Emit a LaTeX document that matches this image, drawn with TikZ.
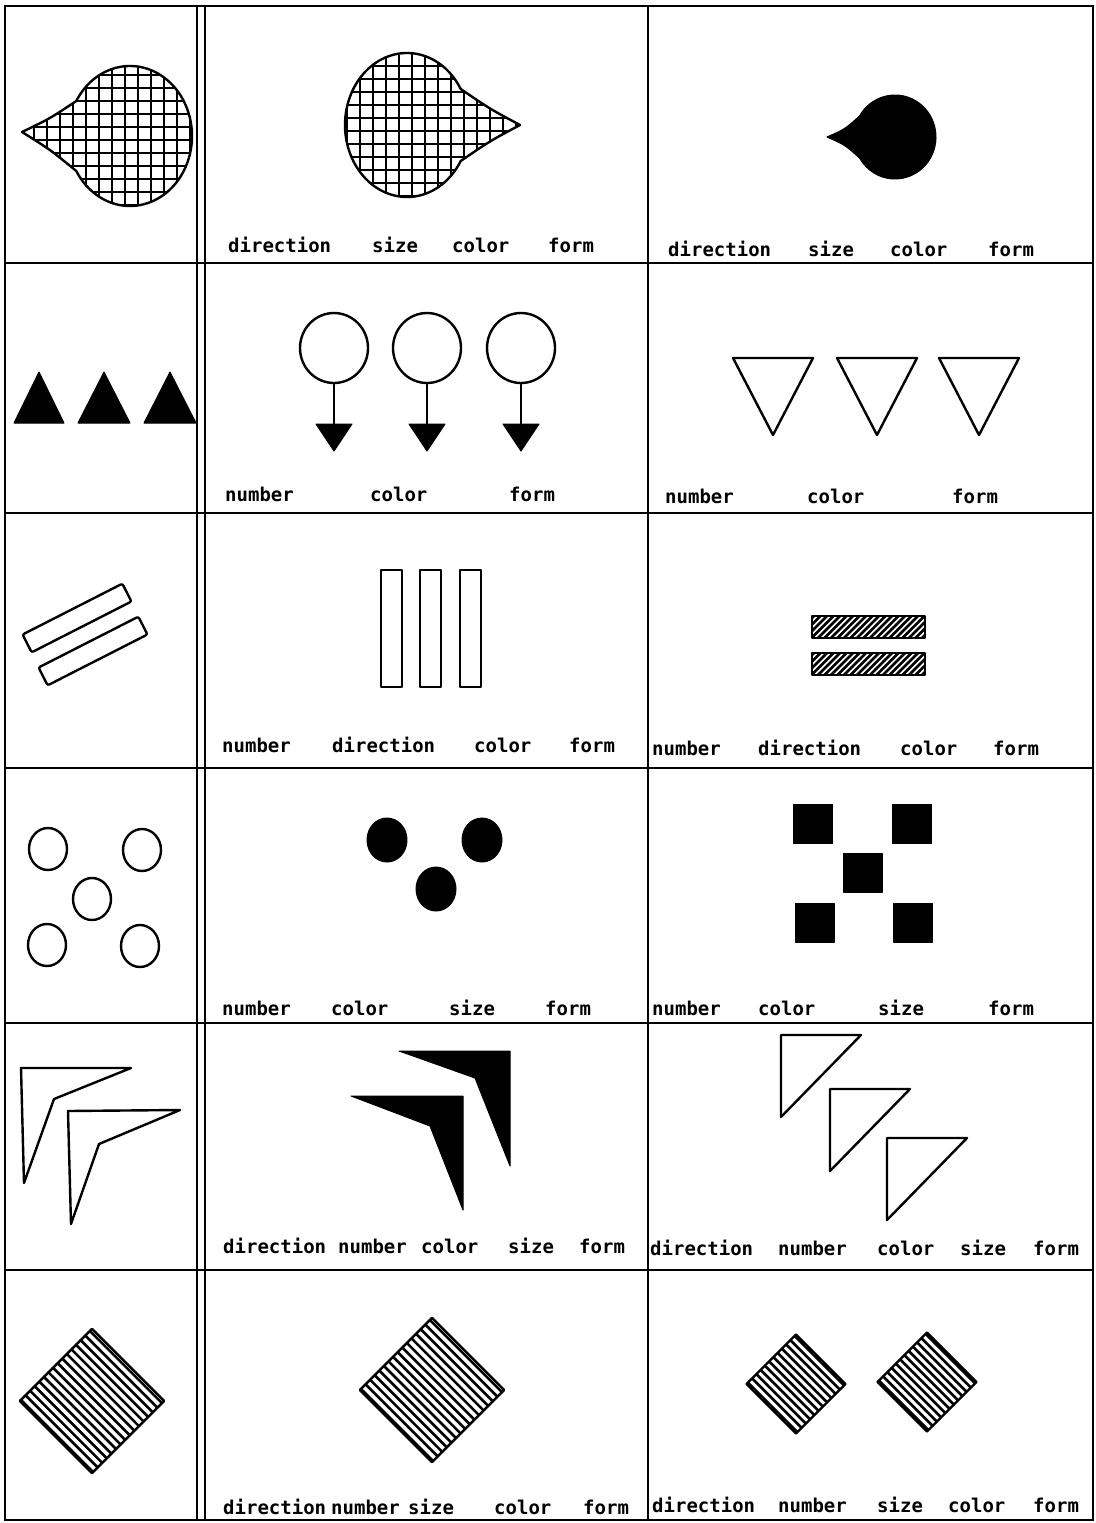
\documentclass[tikz,border=0pt]{standalone}
\usepackage{fontspec}
\newfontfamily\dotfont{DejaVu Sans Mono}
\begin{document}
\begin{tikzpicture}[
  x=1pt, y=-1pt,
  rule/.style={line width=2.2pt},
  outl/.style={draw, line width=2.4pt, line join=round},
  ink/.style={fill=black, draw=black, line width=1pt, line join=round},
  mesh/.style={line width=1.8pt},
  hatch/.style={line width=2.6pt},
  cue/.style={anchor=base west, inner sep=0pt, font=\dotfont\bfseries\fontsize{19}{20}\selectfont},
]
\fill[white] (0,0) rectangle (1095,1523);
\useasboundingbox (0,0) rectangle (1095,1523);

% table
\draw[rule] (5,6) rectangle (1093,1520);
\foreach \y in {263,513,768,1023,1270}
  \draw[rule] (5,\y) -- (1093,\y);
\foreach \x in {197,205,648}
  \draw[rule] (\x,6) -- (\x,1520);

% row 1: drops
\draw[outl, path picture={
    \foreach \g in {8,21,...,200} \draw[mesh] (\g,40) -- (\g,230);
    \foreach \g in {49,62,...,220} \draw[mesh] (0,\g) -- (200,\g);}]
  (22,132) .. controls (50,118.5) .. (76.3,101)
  arc[start angle=-150, end angle=150, x radius=62, y radius=70]
  .. controls (50,149.5) .. (22,132) -- cycle;
\draw[outl, path picture={
    \foreach \g in {334,347,...,530} \draw[mesh] (\g,30) -- (\g,220);
    \foreach \g in {40,53,...,210} \draw[mesh] (330,\g) -- (530,\g);}]
  (520,125) .. controls (490,109) .. (460.7,89)
  arc[start angle=-30, end angle=-330, x radius=62, y radius=72]
  .. controls (490,141) .. (520,125) -- cycle;
\path[ink] (827,137) .. controls (845,129) .. (859.5,116)
  arc[start angle=-150, end angle=150, x radius=41, y radius=42]
  .. controls (845,145) .. (827,137) -- cycle;

% row 2: triangles and pins
\foreach \x/\w in {14/50, 78/52, 144/52}
  \path[ink] (\x,423) -- ++(\w,0) -- ++(-\w/2,-51) -- cycle;
\foreach \x in {334,427,521} {
  \draw[outl] (\x,348) ellipse[x radius=34, y radius=35];
  \draw[line width=2pt] (\x,383) -- (\x,426);
  \path[ink] (\x-18,424) -- (\x+18,424) -- (\x,451) -- cycle;
}
\foreach \x in {733,837,939}
  \draw[outl] (\x,358) -- ++(80,0) -- ++(-40,77) -- cycle;

% row 3: bars
\draw[outl, rounded corners=2pt, rotate around={27:(77,618)}] (21,608) rectangle (133,628);
\draw[outl, rounded corners=2pt, rotate around={27:(93,651)}] (37,641) rectangle (149,661);
\foreach \x in {381,420,460}
  \draw[outl] (\x,570) rectangle ++(21,117);
\foreach \y in {616,653} {
  \begin{scope}
    \clip (812,\y) rectangle ++(113,22);
    \foreach \s in {790,796.5,...,930} \draw[hatch] (\s,\y+24) -- (\s+26,\y-2);
  \end{scope}
  \draw[outl] (812,\y) rectangle ++(113,22);
}

% row 4: dots and squares
\foreach \x/\y in {48/849, 142/850, 92/899, 47/945, 140/946}
  \draw[outl] (\x,\y) ellipse[x radius=19, y radius=21];
\foreach \x/\y in {387/840, 482/840, 436/889}
  \path[ink] (\x,\y) ellipse[x radius=20, y radius=22];
\foreach \x/\y in {793/804, 892/804, 843/853, 795/903, 893/903}
  \path[ink] (\x,\y) rectangle ++(39,39);

% row 5: corners and wedges
\draw[outl] (21,1068) -- (131,1068) -- (54,1099) -- (24,1183) -- cycle;
\draw[outl] (68,1111) -- (180,1110) -- (99,1144) -- (71,1224) -- cycle;
\path[ink] (351,1096) -- (463,1096) -- (463,1210) -- (430,1126) -- cycle;
\path[ink] (399,1051) -- (510,1051) -- (510,1166) -- (475,1078) -- cycle;
\foreach \x/\y in {781/1035, 830/1089, 887/1138}
  \draw[outl] (\x,\y) -- ++(80,0) -- ++(-80,82) -- cycle;

% row 6: striped diamonds
\foreach \cx/\cy/\h/\ta/\tb in {92/1401/51/-48/-41.5, 432/1390/51/-48/-41.5, 796/1384/35/-33/-27, 927/1382/35/-33/-27} {
  \begin{scope}[shift={(\cx,\cy)}, rotate=-45]
    \begin{scope}
      \clip (-\h,-\h) rectangle (\h,\h);
      \foreach \t in {\ta,\tb,...,\h} \draw[hatch] (-\h,\t) -- (\h,\t);
    \end{scope}
    \draw[outl] (-\h,-\h) rectangle (\h,\h);
  \end{scope}
}

% labels
\foreach \w/\x [count=\i] in {direction/228, size/372, color/452, form/548}
  \node[cue] (b1-\i) at (\x,252) {\w};
\foreach \w/\x [count=\i] in {direction/668, size/808, color/890, form/988}
  \node[cue] (c1-\i) at (\x,256) {\w};
\foreach \w/\x [count=\i] in {number/225, color/370, form/509}
  \node[cue] (b2-\i) at (\x,501) {\w};
\foreach \w/\x [count=\i] in {number/665, color/807, form/952}
  \node[cue] (c2-\i) at (\x,503) {\w};
\foreach \w/\x [count=\i] in {number/222, direction/332, color/474, form/569}
  \node[cue] (b3-\i) at (\x,752) {\w};
\foreach \w/\x [count=\i] in {number/652, direction/758, color/900, form/993}
  \node[cue] (c3-\i) at (\x,755) {\w};
\foreach \w/\x [count=\i] in {number/222, color/331, size/449, form/545}
  \node[cue] (b4-\i) at (\x,1015) {\w};
\foreach \w/\x [count=\i] in {number/652, color/758, size/878, form/988}
  \node[cue] (c4-\i) at (\x,1015) {\w};
\foreach \w/\x [count=\i] in {direction/223, number/338, color/421, size/508, form/579}
  \node[cue] (b5-\i) at (\x,1253) {\w};
\foreach \w/\x [count=\i] in {direction/650, number/778, color/877, size/960, form/1033}
  \node[cue] (c5-\i) at (\x,1255) {\w};
\foreach \w/\x [count=\i] in {direction/223, number/331, size/408, color/494, form/583}
  \node[cue] (b6-\i) at (\x,1514) {\w};
\foreach \w/\x [count=\i] in {direction/652, number/778, size/877, color/948, form/1033}
  \node[cue] (c6-\i) at (\x,1512) {\w};
\end{tikzpicture}
\end{document}
